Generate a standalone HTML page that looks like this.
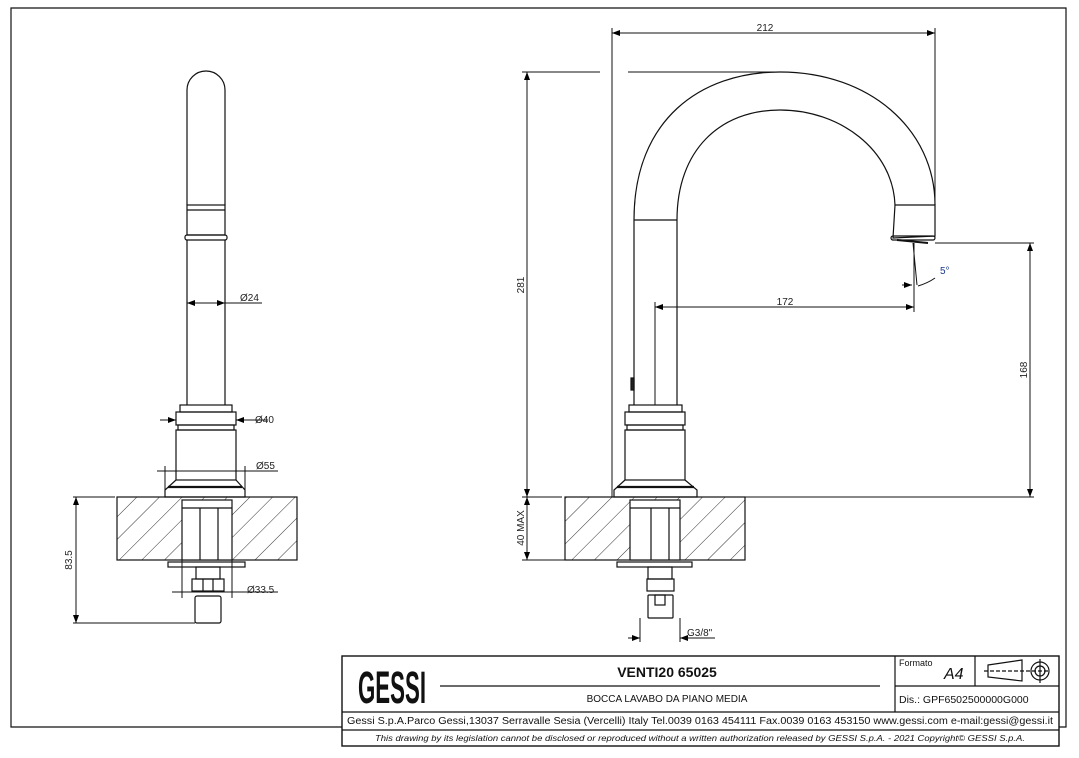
<!DOCTYPE html>
<html><head><style>
html,body{margin:0;padding:0;background:#fff;}
svg{display:block;font-family:"Liberation Sans",sans-serif;}
</style></head><body>
<svg width="1079" height="758" viewBox="0 0 1079 758" xmlns="http://www.w3.org/2000/svg">
<defs>
<pattern id="h" patternUnits="userSpaceOnUse" width="16" height="16" patternTransform="rotate(45)">
<line x1="0" y1="0" x2="0" y2="16" stroke="#333" stroke-width="1"/>
</pattern>
<marker id="a" markerWidth="8" markerHeight="6" refX="8" refY="3" orient="auto-start-reverse"><path d="M0,0 L8,3 L0,6z" fill="#000"/></marker>
</defs>
<g fill="none" stroke="#111" stroke-width="1.2">
<!-- frame -->
<path d="M342,727 L11,727 L11,8 L1066,8 L1066,727 L1059,727"/>
<!-- title block -->
<rect x="342" y="656" width="717" height="90" stroke-width="1.4"/>
<line x1="342" y1="712" x2="1059" y2="712"/>
<line x1="342" y1="730" x2="1059" y2="730"/>
<line x1="895" y1="656" x2="895" y2="712"/>
<line x1="975" y1="656" x2="975" y2="686"/>
<line x1="895" y1="686" x2="1059" y2="686"/>
<line x1="440" y1="686" x2="880" y2="686"/>
<!-- symbol -->
<path d="M988,665 L1022,660 L1022,681 L988,677 Z"/>
<line x1="984" y1="671" x2="1050" y2="671" stroke-dasharray="4,2"/>
<circle cx="1040" cy="671" r="9"/><circle cx="1040" cy="671" r="5"/>
<line x1="1040" y1="659" x2="1040" y2="683"/>

<!-- LEFT VIEW -->
<path d="M187,205 L187,90 A19,19 0 0 1 225,90 L225,205"/>
<rect x="187" y="205" width="38" height="30"/>
<line x1="187" y1="210" x2="225" y2="210"/>
<rect x="185" y="235" width="42" height="5" rx="2"/>
<line x1="187" y1="240" x2="187" y2="405"/><line x1="225" y1="240" x2="225" y2="405"/>
<rect x="180" y="405" width="52" height="7"/>
<rect x="176" y="412" width="60" height="13"/>
<rect x="178" y="425" width="56" height="5"/>
<rect x="176" y="430" width="60" height="50"/>
<path d="M176,480 L165,490 L165,497 L245,497 L245,490 L236,480"/>
<line x1="168" y1="487" x2="242" y2="487" stroke-width="2.2"/>
<rect x="117" y="497" width="180" height="63" fill="url(#h)"/>
<rect x="182" y="500" width="50" height="60" fill="#fff"/>
<line x1="182" y1="508" x2="232" y2="508"/>
<line x1="200" y1="508" x2="200" y2="560"/><line x1="218" y1="508" x2="218" y2="560"/>
<rect x="168" y="562" width="77" height="5"/>
<rect x="196" y="567" width="24" height="12"/>
<rect x="192" y="579" width="32" height="12"/>
<line x1="203" y1="579" x2="203" y2="591"/><line x1="213" y1="579" x2="213" y2="591"/>
<rect x="195" y="596" width="26" height="27" rx="2"/>
<!-- left dims -->
<g stroke-width="1">
<line x1="187" y1="303" x2="225" y2="303" marker-start="url(#a)" marker-end="url(#a)"/>
<line x1="225" y1="303" x2="262" y2="303"/>
<line x1="160" y1="420" x2="176" y2="420" marker-end="url(#a)"/>
<line x1="252" y1="420" x2="236" y2="420" marker-end="url(#a)"/><line x1="252" y1="420" x2="268" y2="420"/>
<line x1="157" y1="471" x2="278" y2="471"/>
<line x1="165" y1="466" x2="165" y2="490"/><line x1="245" y1="466" x2="245" y2="490"/>
<line x1="73" y1="497" x2="115" y2="497"/>
<line x1="73" y1="623" x2="195" y2="623"/>
<line x1="76" y1="497" x2="76" y2="623" marker-start="url(#a)" marker-end="url(#a)"/>
<line x1="172" y1="592" x2="278" y2="592"/>
<line x1="182" y1="560" x2="182" y2="598"/><line x1="232" y1="560" x2="232" y2="598"/>
</g>

<!-- RIGHT VIEW -->
<path d="M634,405 L634,220 C634,120 700,72 780,72 C870,72 935,130 935,205"/>
<path d="M677,405 L677,220 C677,150 720,110 780,110 C840,110 893,150 895,205"/>
<line x1="634" y1="220" x2="677" y2="220"/>
<path d="M895,205 L935,205 L935,236 L893,238 Z"/>
<rect x="891" y="236" width="44" height="4" rx="2"/>
<line x1="897" y1="240" x2="928" y2="243" stroke-width="2"/>
<rect x="631" y="378" width="3" height="12" fill="#222"/>
<rect x="629" y="405" width="53" height="7"/>
<rect x="625" y="412" width="60" height="13"/>
<rect x="627" y="425" width="56" height="5"/>
<rect x="625" y="430" width="60" height="50"/>
<path d="M625,480 L614,490 L614,497 L697,497 L697,490 L685,480"/>
<line x1="617" y1="487" x2="694" y2="487" stroke-width="2.2"/>
<rect x="565" y="497" width="180" height="63" fill="url(#h)"/>
<rect x="630" y="500" width="50" height="60" fill="#fff"/>
<line x1="630" y1="508" x2="680" y2="508"/>
<line x1="651" y1="508" x2="651" y2="560"/><line x1="669" y1="508" x2="669" y2="560"/>
<rect x="617" y="562" width="75" height="5"/>
<rect x="648" y="567" width="24" height="12"/>
<rect x="647" y="579" width="27" height="12"/>
<rect x="648" y="595" width="25" height="23" rx="1"/>
<rect x="655" y="595" width="10" height="10"/>
<!-- right dims -->
<g stroke-width="1">
<line x1="745" y1="497" x2="1034" y2="497"/>
<line x1="522" y1="497" x2="562" y2="497"/>
<line x1="522" y1="72" x2="600" y2="72"/><line x1="628" y1="72" x2="780" y2="72"/>
<line x1="527" y1="72" x2="527" y2="497" marker-start="url(#a)" marker-end="url(#a)"/>
<line x1="527" y1="497" x2="527" y2="560" marker-start="url(#a)" marker-end="url(#a)"/>
<line x1="522" y1="560" x2="565" y2="560"/>
<line x1="612" y1="28" x2="612" y2="497"/>
<line x1="935" y1="28" x2="935" y2="205"/>
<line x1="612" y1="33" x2="935" y2="33" marker-start="url(#a)" marker-end="url(#a)"/>
<line x1="935" y1="243" x2="1034" y2="243"/>
<line x1="1030" y1="243" x2="1030" y2="497" marker-start="url(#a)" marker-end="url(#a)"/>
<line x1="655" y1="302" x2="655" y2="405"/>
<line x1="914" y1="243" x2="914" y2="312"/>
<line x1="655" y1="307" x2="914" y2="307" marker-start="url(#a)" marker-end="url(#a)"/>
<line x1="913" y1="243" x2="917" y2="285"/>
<path d="M918,286 Q928,283 935,278" />
<line x1="902" y1="285" x2="912" y2="285" marker-end="url(#a)"/>
<line x1="640" y1="618" x2="640" y2="642"/><line x1="680" y1="618" x2="680" y2="642"/>
<line x1="628" y1="638" x2="640" y2="638" marker-end="url(#a)"/>
<line x1="692" y1="638" x2="680" y2="638" marker-end="url(#a)"/>
<line x1="680" y1="638" x2="715" y2="638"/>
</g>
</g>
<g font-size="10" fill="#222">
<text x="240" y="301">Ø24</text>
<text x="255" y="423">Ø40</text>
<text x="256" y="469">Ø55</text>
<text x="247" y="593">Ø33.5</text>
<text transform="translate(72,560) rotate(-90)" text-anchor="middle">83.5</text>
<text x="765" y="31" text-anchor="middle">212</text>
<text x="785" y="305" text-anchor="middle">172</text>
<text transform="translate(524,285) rotate(-90)" text-anchor="middle">281</text>
<text transform="translate(524,528) rotate(-90)" text-anchor="middle">40 MAX</text>
<text transform="translate(1027,370) rotate(-90)" text-anchor="middle">168</text>
<text x="940" y="274" fill="#1a3a8a">5°</text>
<text x="687" y="636">G3/8"</text>
</g>
<g fill="#111">
<text x="0" y="0" font-size="30" font-weight="bold" transform="translate(358,703) scale(1,1.5)" textLength="68" lengthAdjust="spacingAndGlyphs">GESSI</text>
<text x="667" y="677" font-size="14" font-weight="bold" text-anchor="middle">VENTI20 65025</text>
<text x="667" y="702" font-size="10" text-anchor="middle">BOCCA LAVABO DA PIANO MEDIA</text>
<text x="899" y="666" font-size="9">Formato</text>
<text x="944" y="679" font-size="16" font-style="italic">A4</text>
<text x="899" y="703" font-size="10.5">Dis.: GPF6502500000G000</text>
<text x="700" y="724" font-size="10" text-anchor="middle" textLength="706" lengthAdjust="spacingAndGlyphs">Gessi S.p.A.Parco Gessi,13037 Serravalle Sesia (Vercelli) Italy Tel.0039 0163 454111 Fax.0039 0163 453150 www.gessi.com e-mail:gessi@gessi.it</text>
<text x="700" y="741" font-size="8.5" font-style="italic" text-anchor="middle" textLength="650" lengthAdjust="spacingAndGlyphs">This drawing by its legislation cannot be disclosed or reproduced without a written authorization released by GESSI S.p.A. - 2021 Copyright© GESSI S.p.A.</text>
</g>
</svg>
</body></html>
